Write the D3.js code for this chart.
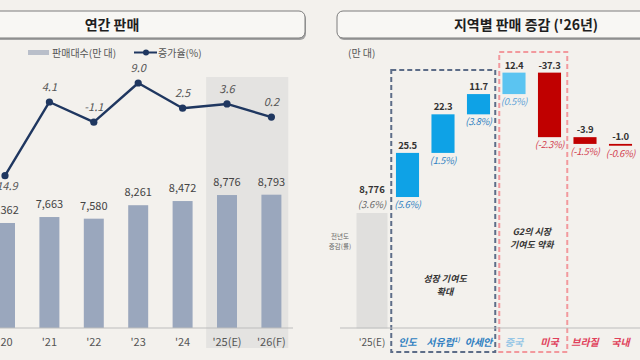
<!DOCTYPE html>
<html><head><meta charset="utf-8">
<script src="https://cdn.jsdelivr.net/npm/d3@7"></script>
<style>
body{margin:0;background:#f3f1ed}
svg{display:block}
text{font-family:"Noto Sans CJK KR","Noto Sans",sans-serif}
</style>
</head><body>
<svg id="c" width="640" height="360"></svg>
<script>
// ---------- data: left (annual sales) ----------
const years = ["'20", "'21", "'22", "'23", "'24", "'25(E)", "'26(F)"];
const sales = [7362, 7663, 7580, 8261, 8472, 8776, 8793];       // 만 대
const growth = [-14.9, 4.1, -1.1, 9.0, 2.5, 3.6, 0.2];           // %
const forecastYears = ["'25(E)", "'26(F)"];

// ---------- data: right (regional change '26) ----------
const baseLabel = "'25(E)";
const baseValue = 8776;
const basePct = 3.6;
const regions = ["인도", "서유럽", "아세안", "중국", "미국", "브라질", "국내"];
const changes = [25.5, 22.3, 11.7, 12.4, -37.3, -3.9, -1.0];
const changePct = [5.6, 1.5, 3.8, 0.5, -2.3, -1.5, -0.6];
const growthGroup = ["인도", "서유럽", "아세안"];
const g2Group = ["중국", "미국"];

const svg = d3.select("#c");
const FONT = '"Noto Sans CJK KR","Noto Sans",sans-serif';
const fmt = d3.format(",");

// ---------- title boxes ----------
function titleBox(x, w, label, cx) {
  svg.append("rect").attr("x", x + 1).attr("y", 13).attr("width", w).attr("height", 27)
    .attr("rx", 6).attr("fill", "#a3a3a3");
  svg.append("rect").attr("x", x).attr("y", 11).attr("width", w).attr("height", 27)
    .attr("rx", 6).attr("fill", "#f8f7f4").attr("stroke", "#7d7d7d").attr("stroke-width", 1);
  svg.append("text").attr("x", cx).attr("y", 30).attr("text-anchor", "middle")
    .attr("font-size", 14).attr("font-weight", 700).attr("fill", "#1e1e1e").text(label);
}
titleBox(-10, 315, "연간 판매", 112);
titleBox(337, 330, "지역별 판매 증감 ('26년)", 526);

// ================= LEFT CHART =================
const xL = d3.scaleBand().domain(years).range([-17.2, 293.6]).paddingInner(0.55).paddingOuter(0.275);
const yBar = d3.scaleLinear().domain([2050, 9000]).range([328, 190.6]);
const yLine = d3.scaleLinear().domain([-20, 10]).range([195.5, 79.1]);
const cxL = d => xL(d) + xL.bandwidth() / 2;

// forecast shading
const stepL = xL.step();
svg.append("rect")
  .attr("x", cxL(forecastYears[0]) - stepL * 0.47)
  .attr("y", 77)
  .attr("width", (cxL(forecastYears[1]) + stepL * 0.38) - (cxL(forecastYears[0]) - stepL * 0.47))
  .attr("height", 271)
  .attr("fill", "#e4e3e1");

// legend
const lg = svg.append("g");
lg.append("rect").attr("x", 28).attr("y", 50).attr("width", 21).attr("height", 5).attr("fill", "#b9bfca");
lg.append("text").attr("x", 52).attr("y", 56.5).attr("font-size", 10).attr("fill", "#555").text("판매대수(만 대)");
lg.append("line").attr("x1", 134).attr("x2", 157).attr("y1", 52.5).attr("y2", 52.5)
  .attr("stroke", "#1f3760").attr("stroke-width", 2);
lg.append("circle").attr("cx", 146).attr("cy", 52.5).attr("r", 3).attr("fill", "#1f3760");
lg.append("text").attr("x", 158).attr("y", 56.5).attr("font-size", 10).attr("fill", "#555").text("증가율(%)");

// bars
svg.append("g").selectAll("rect").data(years).join("rect")
  .attr("x", d => xL(d)).attr("width", xL.bandwidth())
  .attr("y", (d, i) => yBar(sales[i]))
  .attr("height", (d, i) => yBar.range()[0] - yBar(sales[i]))
  .attr("fill", "#9aa7bd");

svg.append("g").selectAll("text").data(years).join("text")
  .attr("x", d => cxL(d)).attr("y", (d, i) => yBar(sales[i]) - 9)
  .attr("text-anchor", "middle").attr("font-size", 11).attr("fill", "#444")
  .text((d, i) => fmt(sales[i]));

// axis
const axL = svg.append("g").attr("transform", "translate(0,328)")
  .call(d3.axisBottom(xL).tickSize(0).tickPadding(10));
axL.select(".domain").attr("d", "M0,0H293").attr("stroke", "#bdbdbd");
axL.selectAll("text").attr("font-size", 11).attr("fill", "#555").attr("font-family", FONT);

// growth line
const line = d3.line().x((d, i) => cxL(years[i])).y(d => yLine(d));
svg.append("path").datum(growth).attr("d", line)
  .attr("fill", "none").attr("stroke", "#1f3760").attr("stroke-width", 2.4).attr("stroke-linejoin", "round");
svg.append("g").selectAll("circle").data(growth).join("circle")
  .attr("cx", (d, i) => cxL(years[i])).attr("cy", d => yLine(d)).attr("r", 3.6).attr("fill", "#1f3760");
svg.append("g").selectAll("text").data(growth).join("text")
  .attr("x", (d, i) => cxL(years[i])).attr("y", d => d < -5 ? yLine(d) + 14 : yLine(d) - 11)
  .attr("text-anchor", "middle").attr("font-size", 11).attr("font-style", "italic").attr("fill", "#555")
  .text(d => d.toFixed(1));

// ================= RIGHT CHART =================
const cats = [baseLabel].concat(regions);
const xR = d3.scaleBand().domain(cats).range([354.25, 638.25]).paddingInner(0.35).paddingOuter(0.175);
const yW = d3.scaleLinear().domain([8700, 8850]).range([328.5, 69]);
const cxR = d => xR(d) + xR.bandwidth() / 2;
const stepR = xR.step();
const baseStubGap = 16;

svg.append("text").attr("x", 348).attr("y", 57).attr("font-size", 10).attr("fill", "#555").text("(만 대)");

// base bar (broken-axis stub)
const baseTop = yW(baseValue) + baseStubGap;
svg.append("rect").attr("x", cxR(baseLabel) - 15.5).attr("width", 31)
  .attr("y", baseTop).attr("height", yW.range()[0] - baseTop).attr("fill", "#e0dfdd");
svg.append("text").attr("x", cxR(baseLabel)).attr("y", baseTop - 20).attr("text-anchor", "middle")
  .attr("font-size", 9.5).attr("font-weight", 700).attr("fill", "#333").text(fmt(baseValue));
svg.append("text").attr("x", cxR(baseLabel)).attr("y", baseTop - 5).attr("text-anchor", "middle")
  .attr("font-size", 9.5).attr("font-style", "italic").attr("fill", "#666").text(`(${basePct.toFixed(1)}%)`);
svg.append("text").attr("x", 340).attr("y", 239).attr("text-anchor", "middle").attr("font-size", 6.5).attr("fill", "#666").text("전년도");
svg.append("text").attr("x", 340).attr("y", 249).attr("text-anchor", "middle").attr("font-size", 6.5).attr("fill", "#666").text("증감(률)");

// dashed group boxes
function groupBox(list, top, color, inL, inR) {
  const x0 = xR(list[0]) - stepR * xR.paddingInner() / 2 + inL;
  const x1 = xR(list[list.length - 1]) + xR.bandwidth() + stepR * xR.paddingInner() / 2 - inR;
  svg.append("rect").attr("x", x0).attr("y", top).attr("width", x1 - x0).attr("height", 352 - top)
    .attr("fill", "none").attr("stroke", color).attr("stroke-width", 2).attr("stroke-dasharray", "5,3");
}

// waterfall
const cum = [];
let run = baseValue;
changes.forEach(c => { cum.push([run, run + c]); run += c; });
const colorOf = r => r === "중국" ? "#5bc4f1" : (growthGroup.includes(r) ? "#0ea2e6" : "#c00000");
const pctColor = r => r === "중국" ? "#5a9fd6" : (growthGroup.includes(r) ? "#2f7fc1" : "#d2404f");
const catColor = r => r === "중국" ? "#98c7e6" : (growthGroup.includes(r) ? "#2f7fc1" : "#e0405a");

svg.append("g").selectAll("rect").data(regions).join("rect")
  .attr("x", d => xR(d)).attr("width", xR.bandwidth())
  .attr("y", (d, i) => yW(Math.max(...cum[i])))
  .attr("height", (d, i) => Math.max(1.8, Math.abs(yW(cum[i][0]) - yW(cum[i][1]))))
  .attr("fill", d => colorOf(d));

svg.append("g").selectAll("text").data(regions).join("text")
  .attr("x", d => cxR(d)).attr("y", (d, i) => yW(Math.max(...cum[i])) - 4)
  .attr("text-anchor", "middle").attr("font-size", 9.5).attr("font-weight", 700).attr("fill", "#333")
  .attr("letter-spacing", -0.3)
  .text((d, i) => changes[i].toFixed(1));

svg.append("g").selectAll("text").data(regions).join("text")
  .attr("x", d => cxR(d)).attr("y", (d, i) => yW(Math.min(...cum[i])) + 11)
  .attr("text-anchor", "middle").attr("font-size", 9.5).attr("font-style", "italic")
  .attr("fill", d => pctColor(d)).attr("letter-spacing", -0.3)
  .text((d, i) => `(${changePct[i].toFixed(1)}%)`);

groupBox(growthGroup, 70, "#5d6d88", 1.5, 1);
groupBox(g2Group, 52, "#f2999d", 3, 0);

// axis
svg.append("line").attr("x1", 340).attr("x2", 640).attr("y1", 328).attr("y2", 328).attr("stroke", "#bdbdbd");
svg.append("g").selectAll("text").data(cats).join("text")
  .attr("x", d => cxR(d)).attr("y", 346).attr("text-anchor", "middle").attr("font-size", 10)
  .attr("font-style", d => d === baseLabel ? "normal" : "italic")
  .attr("font-weight", d => d === baseLabel ? 400 : 700)
  .attr("fill", d => d === baseLabel ? "#555" : catColor(d))
  .each(function (d) {
    const t = d3.select(this);
    t.append("tspan").text(d);
    if (d === "서유럽") t.append("tspan").attr("font-size", 6).attr("dy", -4).text("1)");
  });

// annotations (one text per line)
function note2(lines, cx, y0) {
  lines.forEach((l, i) => svg.append("text").attr("x", cx).attr("y", y0 + i * 13)
    .attr("text-anchor", "middle").attr("font-size", 9)
    .attr("font-weight", 700).attr("font-style", "italic").attr("fill", "#333").text(l));
}
note2(["성장 기여도", "확대"], (cxR(growthGroup[0]) + cxR(growthGroup[2])) / 2 + 2, 282);
note2(["G2의 시장", "기여도 약화"], (cxR(g2Group[0]) + cxR(g2Group[1])) / 2, 235);
</script>
</body></html>
